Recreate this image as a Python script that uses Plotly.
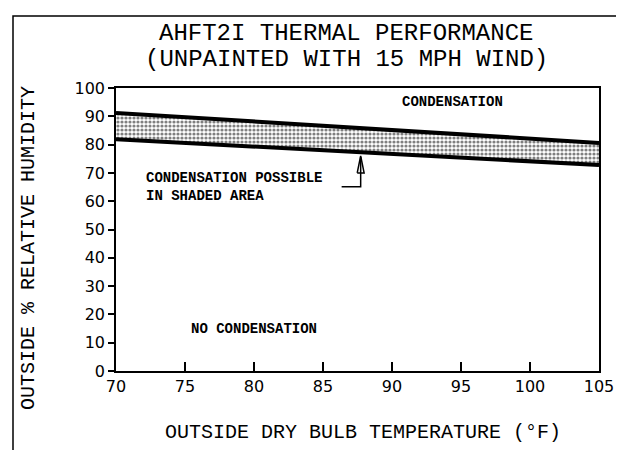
import plotly.graph_objects as go

# band limits (outside dry bulb temp vs relative humidity)
temps = [70, 105]
upper_rh = [91.2, 80.6]
lower_rh = [81.9, 72.8]

x_ticks = [70, 75, 80, 85, 90, 95, 100, 105]
y_ticks = [0, 10, 20, 30, 40, 50, 60, 70, 80, 90, 100]

# leader arrow for the shaded-area note
arrow_x = [86.35, 87.73, 87.73]
arrow_y = [65.1, 65.1, 75.6]
head_x = [87.48, 87.73, 87.98, 87.48]
head_y = [70.0, 76.0, 70.0, 70.0]

CAD_FONT = "Liberation Mono"
NOTE_FONT = dict(family="Liberation Mono", size=14, color="black")

# plot area in pixels, used to place page-level text
L, R, T, B = 108, 591, 80, 363


def px_x(p):
    return (p - L) / (R - L)


def px_y(p):
    return (B - p) / (B - T)


fig = go.Figure()

fig.add_trace(
    go.Scatter(
        x=temps, y=lower_rh, mode="lines",
        line=dict(color="black", width=4), hoverinfo="skip",
    )
)
fig.add_trace(
    go.Scatter(
        x=temps, y=upper_rh, mode="lines", fill="tonexty",
        fillcolor="white",
        fillpattern=dict(shape=".", size=4, solidity=0.5,
                         fgcolor="black", bgcolor="white"),
        line=dict(color="black", width=4), hoverinfo="skip",
    )
)
fig.add_trace(
    go.Scatter(
        x=arrow_x, y=arrow_y, mode="lines",
        line=dict(color="black", width=1.5), hoverinfo="skip",
    )
)
fig.add_trace(
    go.Scatter(
        x=head_x, y=head_y, mode="lines",
        line=dict(color="black", width=1.5), hoverinfo="skip",
    )
)

fig.add_annotation(x=94.35, y=95.0, text="<b>CONDENSATION</b>", showarrow=False,
                   font=NOTE_FONT, xanchor="center", yanchor="middle")
fig.add_annotation(x=72.0, y=65.1,
                   text="<b>CONDENSATION POSSIBLE<br>IN SHADED AREA</b>",
                   showarrow=False, font=NOTE_FONT, align="left",
                   xanchor="left", yanchor="middle")
fig.add_annotation(x=75.3, y=14.7, text="<b>NO CONDENSATION</b>", showarrow=False,
                   font=NOTE_FONT, xanchor="left", yanchor="middle")

# titles
for txt, py in [("AHFT2I THERMAL PERFORMANCE", 25.5),
                ("(UNPAINTED WITH 15 MPH WIND)", 52)]:
    fig.add_annotation(xref="paper", yref="paper", x=px_x(338), y=px_y(py),
                       text=txt, showarrow=False, xanchor="center",
                       yanchor="middle",
                       font=dict(family=CAD_FONT, size=24, color="black"))
fig.add_annotation(xref="paper", yref="paper", x=px_x(355), y=px_y(424),
                   text="OUTSIDE DRY BULB TEMPERATURE (°F)", showarrow=False,
                   xanchor="center", yanchor="middle",
                   font=dict(family=CAD_FONT, size=20, color="black"))
fig.add_annotation(xref="paper", yref="paper", x=px_x(20), y=px_y(240),
                   text="OUTSIDE % RELATIVE HUMIDITY", showarrow=False,
                   textangle=-90, xanchor="center", yanchor="middle",
                   font=dict(family=CAD_FONT, size=20, color="black"))

# drawing frame (left and top edges visible)
fig.add_shape(type="rect", xref="paper", yref="paper",
              x0=px_x(5), x1=px_x(700), y0=px_y(500), y1=px_y(8),
              line=dict(color="black", width=1.5), layer="below")

fig.update_xaxes(
    range=[70, 105], tickvals=x_ticks, ticks="inside", ticklen=9,
    tickwidth=1.5, tickcolor="black", showline=True, linecolor="black",
    linewidth=1.5, mirror=True, showgrid=False, zeroline=False,
    tickfont=dict(family="DejaVu Sans", size=16, color="black"),
)
fig.update_yaxes(
    range=[0, 100], tickvals=y_ticks, ticks="outside", ticklen=6,
    tickwidth=1.5, tickcolor="black", showline=True, linecolor="black",
    linewidth=1.5, mirror=True, showgrid=False, zeroline=False,
    tickfont=dict(family="DejaVu Sans", size=16, color="black"),
)
fig.update_layout(
    width=624, height=450, autosize=False,
    margin=dict(l=L, r=624 - R, t=T, b=450 - B),
    plot_bgcolor="white", paper_bgcolor="white", showlegend=False,
)

fig.write_html("out.html")
